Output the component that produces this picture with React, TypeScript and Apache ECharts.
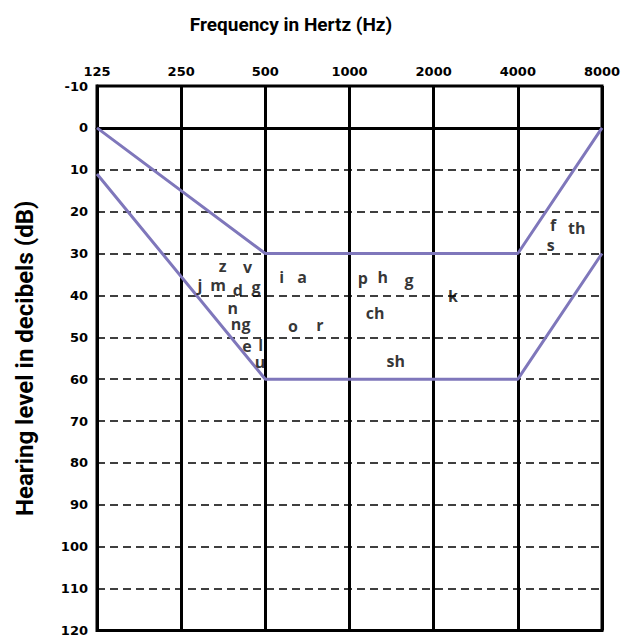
import React, { useEffect, useRef } from "react";
import * as echarts from "echarts";

const freqTicks = [125, 250, 500, 1000, 2000, 4000, 8000];

// speech banana boundaries: [frequency Hz, hearing level dB]
const upperBoundFreq = [125, 500, 4000, 8000];
const upperBoundDb = [0, 30, 30, 0];
const lowerBoundFreq = [125, 500, 4000, 8000];
const lowerBoundDb = [11, 60, 60, 30];

// speech sounds
const soundNames = ["z", "v", "j", "m", "d", "g", "i", "a", "n", "ng", "o", "r", "e", "l", "u", "p", "h", "g", "k", "ch", "sh", "f", "th", "s"];
const soundFreqs = [352, 432, 292, 339, 399, 463, 572, 676, 382, 408, 628, 784, 430, 481, 479, 1115, 1314, 1633, 2345, 1234, 1463, 5344, 6500, 5240];
const soundDb = [32.9, 33.1, 37.4, 37.4, 38.6, 37.9, 35.7, 35.7, 43.1, 46.9, 47.4, 47.1, 52.1, 51.8, 55.8, 35.9, 35.7, 36.4, 40.2, 44.3, 55.7, 23.1, 23.8, 27.9];

const toOct = (f: number) => Math.log2(f / 125);
const PURPLE = "#7f77bb";

export default function App() {
  const ref = useRef<HTMLDivElement>(null);
  useEffect(() => {
    if (!ref.current) return;
    const chart = echarts.init(ref.current, undefined, { renderer: "svg" });
    const tickFont = "'DejaVu Sans', Verdana, sans-serif";
    chart.setOption({
      animation: false,
      backgroundColor: "#ffffff",
      title: {
        text: "Frequency in Hertz (Hz)",
        left: 286,
        textAlign: "center",
        top: 10,
        textStyle: {
          fontFamily: "'Liberation Sans Narrow', 'Roboto', sans-serif",
          fontWeight: "bold",
          fontSize: 19,
          color: "#000",
        },
      },
      grid: {
        left: 97,
        right: 22,
        top: 86,
        bottom: 3,
        show: true,
        borderColor: "#000",
        borderWidth: 3,
        backgroundColor: "transparent",
      },
      xAxis: {
        type: "value",
        position: "top",
        min: 0,
        max: 6,
        interval: 1,
        axisLine: { show: true, lineStyle: { color: "#000", width: 3 } },
        axisTick: { show: false },
        axisLabel: {
          margin: 8,
          color: "#000",
          fontWeight: "bold",
          fontSize: 13,
          fontFamily: tickFont,
          formatter: (v: number) => String(freqTicks[Math.round(v)] ?? ""),
        },
        splitLine: { show: true, lineStyle: { color: "#000", width: 3, type: "solid" } },
      },
      yAxis: {
        type: "value",
        inverse: true,
        min: -10,
        max: 120,
        interval: 10,
        name: "Hearing level in decibels (dB)",
        nameLocation: "middle",
        nameRotate: 90,
        nameGap: 60,
        nameTextStyle: {
          fontFamily: "'Liberation Sans Narrow', 'Roboto', sans-serif",
          fontWeight: "bold",
          fontSize: 24,
          color: "#000",
        },
        axisLine: { show: true, lineStyle: { color: "#000", width: 3 } },
        axisTick: { show: false },
        axisLabel: {
          margin: 9,
          color: "#000",
          fontWeight: "bold",
          fontSize: 13,
          fontFamily: tickFont,
        },
        splitLine: { show: true, lineStyle: { color: "#000", width: 1.5, type: [8, 5] } },
      },
      series: [
        {
          type: "line",
          data: upperBoundFreq.map((f, i) => [toOct(f), upperBoundDb[i]]),
          showSymbol: false,
          symbol: "none",
          lineStyle: { color: PURPLE, width: 3 },
          z: 5,
        },
        {
          type: "line",
          data: lowerBoundFreq.map((f, i) => [toOct(f), lowerBoundDb[i]]),
          showSymbol: false,
          symbol: "none",
          lineStyle: { color: PURPLE, width: 3 },
          z: 5,
        },
        {
          type: "scatter",
          symbolSize: 1,
          itemStyle: { color: "transparent" },
          data: soundNames.map((n, i) => ({ name: n, value: [toOct(soundFreqs[i]), soundDb[i]] })),
          label: {
            show: true,
            position: "inside",
            formatter: (p: any) => p.name,
            color: "#000",
            textBorderWidth: 0,
            fontFamily: "'Open Sans', 'Noto Sans', sans-serif",
            fontWeight: "bold",
            fontSize: 16,
            lineHeight: 13,
          },
          z: 6,
        },
      ],
    });
    return () => chart.dispose();
  }, []);
  return (
    <div
      ref={ref}
      style={{ position: "absolute", left: 0, top: 0, width: 624, height: 637 }}
    />
  );
}
